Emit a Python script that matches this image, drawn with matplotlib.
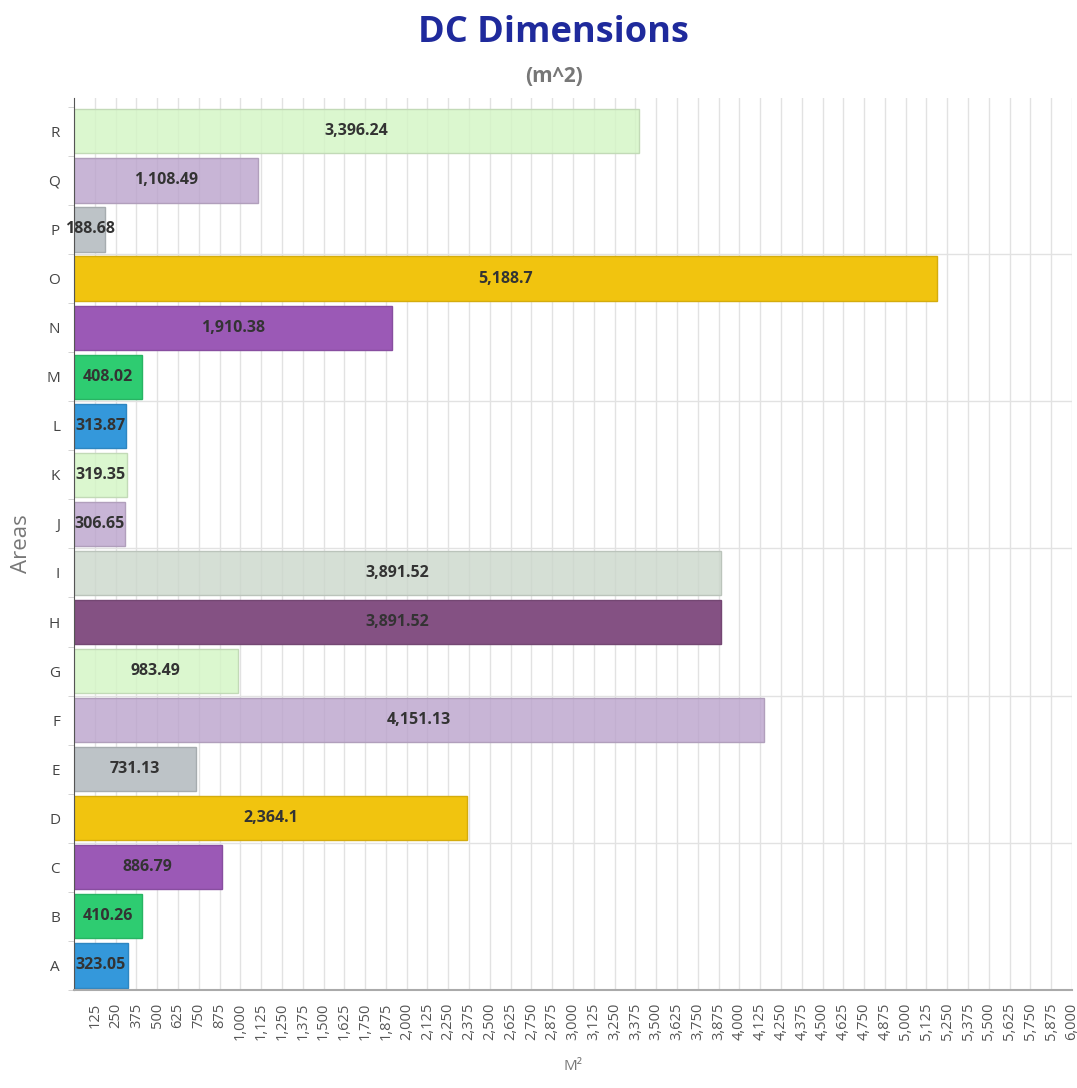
import matplotlib
matplotlib.use('Agg')
import numpy as np
import matplotlib.pyplot as plt
import matplotlib.transforms as mtransforms
from matplotlib.colors import to_rgb

plt.rcParams['font.family'] = ['Open Sans', 'DejaVu Sans']

# data
areas = ['A', 'B', 'C', 'D', 'E', 'F', 'G', 'H', 'I',
         'J', 'K', 'L', 'M', 'N', 'O', 'P', 'Q', 'R']
values = [323.05, 410.26, 886.79, 2364.1, 731.13, 4151.13, 983.49, 3891.52, 3891.52,
          306.65, 319.35, 313.87, 408.02, 1910.38, 5188.7, 188.68, 1108.49, 3396.24]
labels = ['323.05', '410.26', '886.79', '2,364.1', '731.13', '4,151.13', '983.49', '3,891.52', '3,891.52',
          '306.65', '319.35', '313.87', '408.02', '1,910.38', '5,188.7', '188.68', '1,108.49', '3,396.24']
colors = ['#3498db', '#2ecc71', '#9b59b6', '#f1c40f', '#bdc3c7', '#c9b5d6', '#dcf8d0', '#845183', '#d5dfd5',
          '#c9b5d6', '#dcf8d0', '#3498db', '#2ecc71', '#9b59b6', '#f1c40f', '#bdc3c7', '#c9b5d6', '#dcf8d0']
# light bars are see-through (grid shows through them)
see_through = [False, False, False, False, False, True, True, False, True,
               True, True, False, False, False, False, False, True, True]
x_ticks = np.arange(125, 6001, 125)


def rgba_for(col, transparent, alpha=0.8):
    # colour that gives the same look on white when drawn with alpha
    if not transparent:
        return to_rgb(col) + (1.0,)
    r, g, b = to_rgb(col)
    base = [min(1, max(0, (c - (1 - alpha)) / alpha)) for c in (r, g, b)]
    return tuple(base) + (alpha,)


fig = plt.figure(figsize=(10.77, 10.88), dpi=100)
ax = fig.add_axes([74 / 1077, 98 / 1088, 998 / 1077, 892 / 1088])

ypos = np.arange(len(areas))
faces = [rgba_for(c, t) for c, t in zip(colors, see_through)]
edges = [tuple(c * 0.88 for c in to_rgb(col)) for col in colors]
ax.barh(ypos, values, height=0.9, color=faces, edgecolor=edges, linewidth=1, zorder=2)

for y, v, lab in zip(ypos, values, labels):
    ax.text(v / 2, y, lab, ha='center', va='center', fontsize=11.5, fontweight='bold',
            color='#333333', zorder=3)

ax.set_xlim(0, 6000)
ax.set_ylim(-0.5, len(areas) - 0.5 + 0.18)
ax.set_xticks(x_ticks)
ax.set_xticklabels([f'{t:,}' for t in x_ticks], rotation=90, fontsize=10.5, color='#555555')
shift = mtransforms.ScaledTranslation(-6 / 100, 0, fig.dpi_scale_trans)
for lab in ax.get_xticklabels():
    lab.set_transform(lab.get_transform() + shift)
ax.set_yticks(ypos)
ax.set_yticklabels(areas, fontsize=11, color='#444444')
ax.set_yticks(np.arange(-0.5, len(areas), 1), minor=True)
ax.tick_params(axis='y', which='major', length=0, pad=10)
ax.tick_params(axis='y', which='minor', length=4, color='#cccccc')
ax.tick_params(axis='x', which='major', length=0, pad=9)

ax.grid(axis='x', color='#e2e2e2', linewidth=1, zorder=0)
for b in [2.5, 5.5, 8.5, 11.5, 14.5]:
    ax.axhline(b, color='#e2e2e2', linewidth=1, zorder=0)

for s in ['top', 'right']:
    ax.spines[s].set_visible(False)
ax.spines['left'].set_color('#555555')
ax.spines['bottom'].set_color('#aaaaaa')
ax.spines['bottom'].set_linewidth(1.5)

ax.set_ylabel('Areas', fontsize=16, color='#777777', labelpad=10)
ax.set_xlabel('M²', fontsize=11, color='#777777', labelpad=14)

fig.text(553 / 1077, 0.970, 'DC Dimensions', ha='center', va='center', fontsize=26,
         fontweight='bold', color='#1f2a9c')
fig.text(554 / 1077, 0.930, '(m^2)', ha='center', va='center', fontsize=15,
         fontweight='bold', color='#777777')

fig.savefig('out.png', dpi=100)
